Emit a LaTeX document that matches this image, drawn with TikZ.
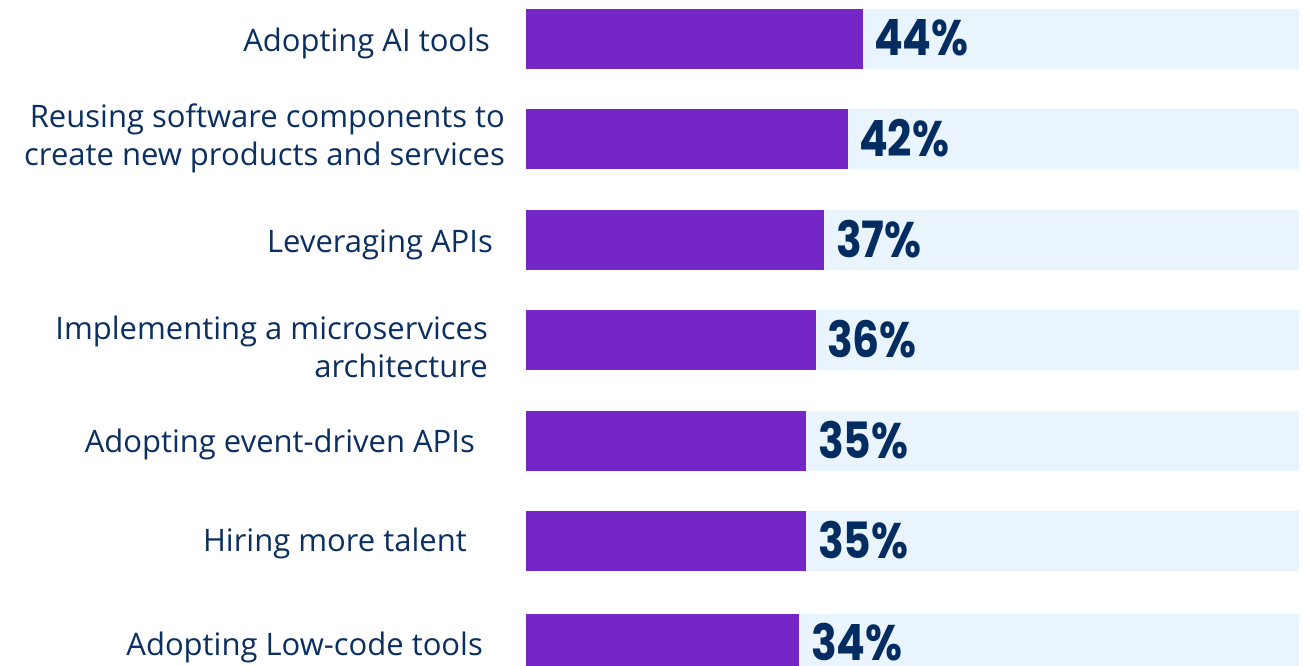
\documentclass[tikz,border=0pt]{standalone}
\usepackage{fontspec}
\setmainfont{Open Sans}
\newfontfamily\pctfont[FakeStretch=0.85]{Poppins}
\definecolor{barpurple}{HTML}{7526C7}
\definecolor{trackblue}{HTML}{EAF4FD}
\definecolor{navy}{HTML}{0B2F60}
\definecolor{deepnavy}{HTML}{032D60}

\tikzset{
  track/.style={fill=trackblue},
  bar/.style={fill=barpurple},
  item/.style={text=navy, inner sep=0pt, align=right,
    font=\fontsize{31}{38}\selectfont},
  pct/.style={anchor=base west, text=deepnavy, inner sep=0pt,
    font=\pctfont\bfseries\fontsize{50}{50}\selectfont},
}

\begin{document}
\begin{tikzpicture}[x=1pt,y=-1pt]
\useasboundingbox (0,0) rectangle (1304,666);
% light tracks behind the bars
\fill[track] (526,9) rectangle (1299,69);
\fill[track] (526,109) rectangle (1299,169);
\fill[track] (526,210) rectangle (1299,270);
\fill[track] (526,310) rectangle (1299,370);
\fill[track] (526,411) rectangle (1299,471);
\fill[track] (526,511) rectangle (1299,571);
\fill[track] (526,614) rectangle (1299,674);
% bars
\fill[bar] (526,9) rectangle (863,69);
\fill[bar] (526,109) rectangle (848,169);
\fill[bar] (526,210) rectangle (824,270);
\fill[bar] (526,310) rectangle (816,370);
\fill[bar] (526,411) rectangle (806,471);
\fill[bar] (526,511) rectangle (806,571);
\fill[bar] (526,614) rectangle (799,674);
% values
\node[pct] (vai) at (874,56) {44\%};
\node[pct] (vreuse) at (859,157) {42\%};
\node[pct] (vapi) at (836,257) {37\%};
\node[pct] (vmicro) at (827,357) {36\%};
\node[pct] (vevent) at (818,458) {35\%};
\node[pct] (vhire) at (818,558) {35\%};
\node[pct] (vlow) at (811,660) {34\%};
% labels
\node[item, anchor=base east] (lai) at (490,52) {Adopting AI tools};
\node[item, anchor=east] (lreuse) at (505,138) {Reusing software components to\\create new products and services};
\node[item, anchor=base east] (lapi) at (493,252) {Leveraging APIs};
\node[item, anchor=east] (lmicro) at (488,347) {Implementing a microservices\\architecture};
\node[item, anchor=base east] (levent) at (475,452) {Adopting event-driven APIs};
\node[item, anchor=base east] (lhire) at (467,551) {Hiring more talent};
\node[item, anchor=base east] (llow) at (483,655) {Adopting Low-code tools};
\end{tikzpicture}
\end{document}
